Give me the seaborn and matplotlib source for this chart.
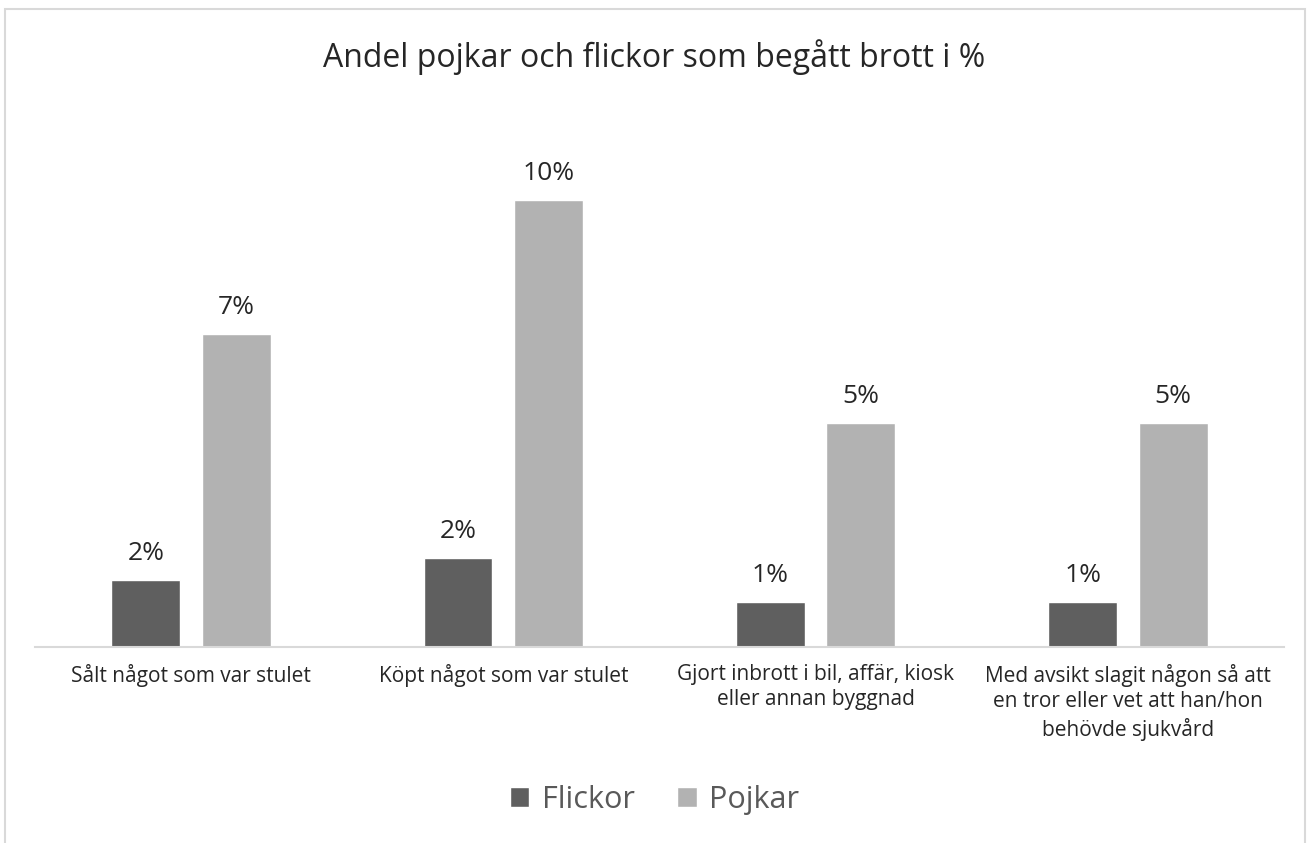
import pandas as pd
import matplotlib.pyplot as plt
import seaborn as sns
from matplotlib.patches import Rectangle

categories = ['Sålt något som var stulet',
              'Köpt något som var stulet',
              'Gjort inbrott i bil, affär, kiosk\neller annan byggnad',
              'Med avsikt slagit någon så att\nen tror eller vet att han/hon\nbehövde sjukvård']
flickor = [1.5, 2.0, 1.0, 1.0]
pojkar = [7.0, 10.0, 5.0, 5.0]
flickor_labels = ['2%', '2%', '1%', '1%']
pojkar_labels = ['7%', '10%', '5%', '5%']

df = pd.DataFrame({
    'kategori': categories * 2,
    'andel': flickor + pojkar,
    'kon': ['Flickor'] * 4 + ['Pojkar'] * 4,
})

sns.set_theme(style='white')
plt.rcParams['font.family'] = ['Open Sans', 'DejaVu Sans']

fig = plt.figure(figsize=(13.09, 8.43), dpi=100)
ax = fig.add_axes([0.0267, 0.2325, 0.9542, 0.637])

sns.barplot(data=df, x='kategori', y='andel', hue='kon', ax=ax,
            palette={'Flickor': '#5f5f5f', 'Pojkar': '#b2b2b2'},
            width=0.58, gap=0.24, saturation=1)

ax.bar_label(ax.containers[0], labels=flickor_labels, padding=10, fontsize=19, color='#262626')
ax.bar_label(ax.containers[1], labels=pojkar_labels, padding=10, fontsize=19, color='#262626')

ax.set_xlim(-0.5, 3.5)
ax.set_ylim(0, 12)
ax.set_yticks([])
ax.set_xlabel('')
ax.set_ylabel('')
for s in ['top', 'right', 'left']:
    ax.spines[s].set_visible(False)
ax.spines['bottom'].set_color('#d9d9d9')
ax.spines['bottom'].set_linewidth(1.5)
ax.tick_params(axis='x', length=0, pad=12, labelsize=15, labelcolor='#262626')
for lbl in ax.get_xticklabels():
    lbl.set_linespacing(1.3)

leg = ax.legend(loc='center', bbox_to_anchor=(0.5, 0.051), bbox_transform=fig.transFigure,
                ncol=2, frameon=False, fontsize=22, handlelength=0.65, handleheight=0.65,
                columnspacing=1.4, handletextpad=0.4)
for t in leg.get_texts():
    t.set_color('#595959')

fig.text(0.5, 0.932, 'Andel pojkar och flickor som begått brott i %', ha='center', va='center',
         fontsize=23, color='#262626')

fig.patches.append(Rectangle((0.004, -0.1), 0.993, 1.089, transform=fig.transFigure,
                             fill=False, edgecolor='#d9d9d9', lw=1.5))

plt.savefig('out.png', dpi=100)
plt.close()
